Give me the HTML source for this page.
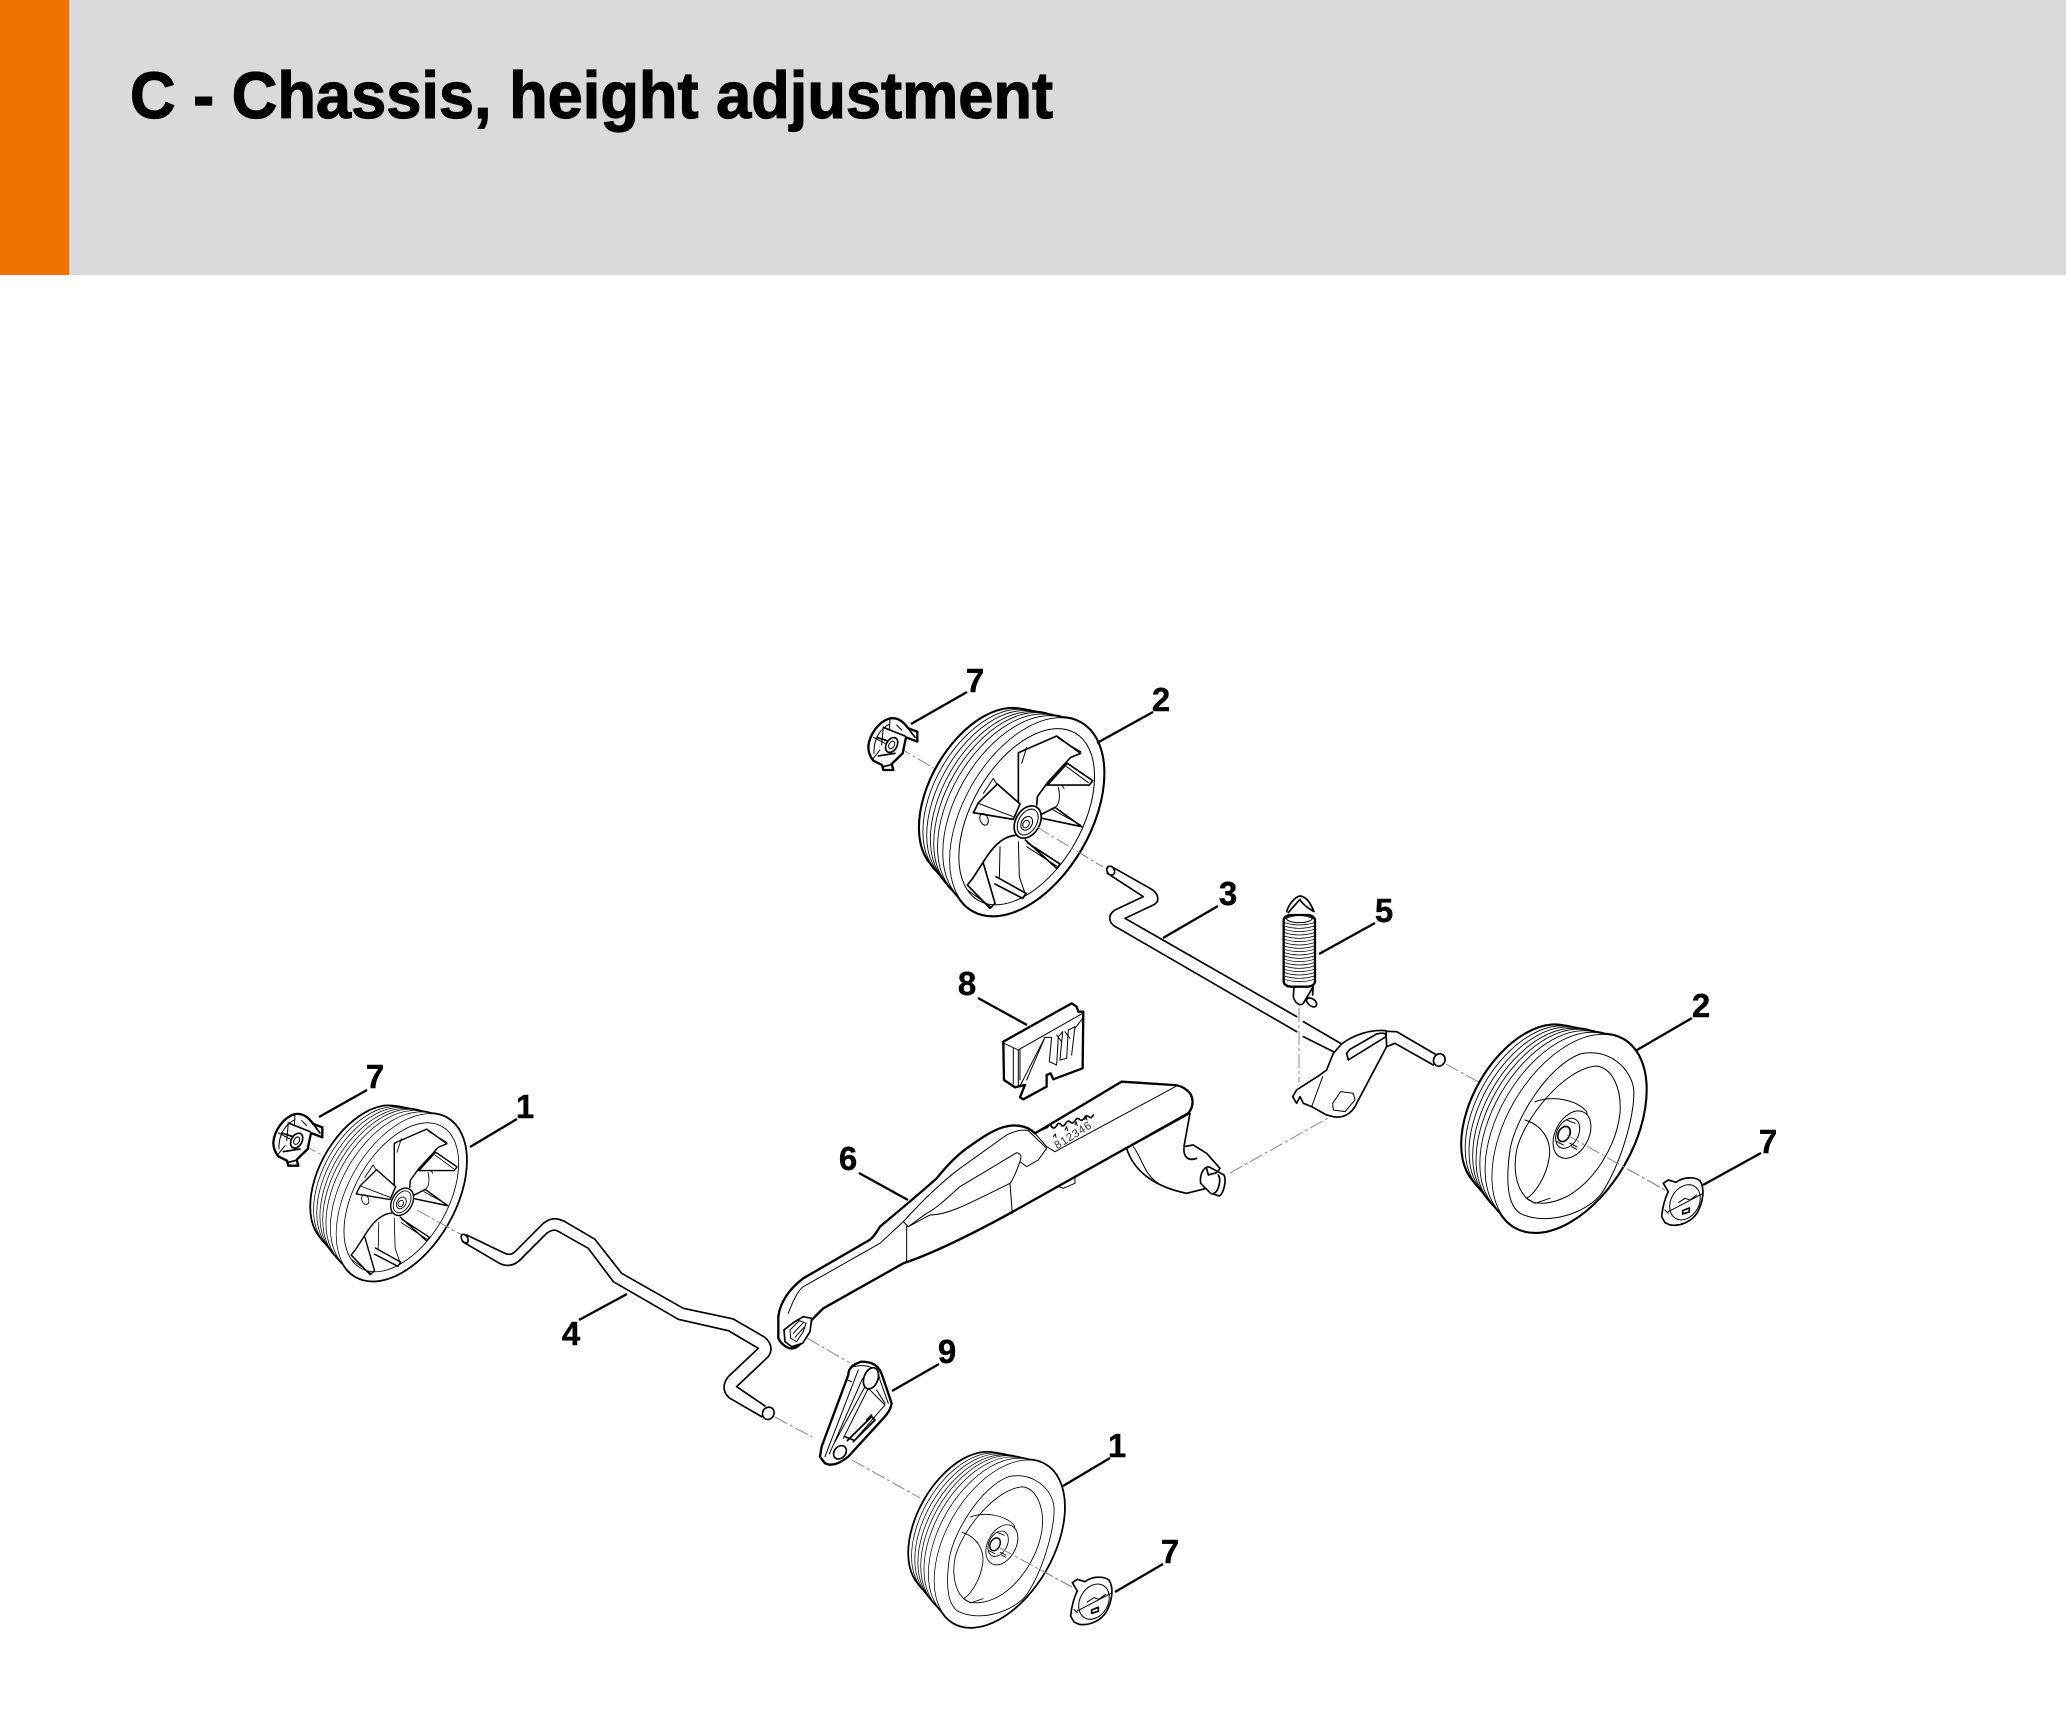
<!DOCTYPE html>
<html lang="en">
<head>
<meta charset="utf-8">
<title>C - Chassis, height adjustment</title>
<style>
html,body{margin:0;padding:0;background:#fff;width:2066px;height:1728px;overflow:hidden}
svg{display:block}
.k{fill:none;stroke:#000;stroke-linecap:round;stroke-linejoin:round}
.w{fill:#fff;stroke:#000;stroke-linecap:round;stroke-linejoin:round}
.th{stroke-width:7}
.md{stroke-width:5}
.tn{stroke-width:3}
.dash{stroke:#888;stroke-width:1;fill:none;stroke-dasharray:14 3 3 3}
.lead{stroke:#000;stroke-width:2.3;fill:none}
.num{font-family:"Liberation Sans",sans-serif;font-weight:700;font-size:33px;fill:#000;text-anchor:middle;stroke:#000;stroke-width:.4}
</style>
</head>
<body>
<svg width="2066" height="1728" viewBox="0 0 2066 1728" xmlns="http://www.w3.org/2000/svg">
<defs>
  <g id="shapes">
    <ellipse cx="-128" cy="-76" rx="272" ry="159" transform="rotate(-60 -128 -76)"/>
    <ellipse cx="-113" cy="-67" rx="279" ry="163" transform="rotate(-60 -113 -67)"/>
    <ellipse cx="-97" cy="-58" rx="285" ry="167" transform="rotate(-60 -97 -58)"/>
    <ellipse cx="-82" cy="-49" rx="291" ry="170" transform="rotate(-60 -82 -49)"/>
    <ellipse cx="-67" cy="-40" rx="298" ry="174" transform="rotate(-60 -67 -40)"/>
    <ellipse cx="-51" cy="-30" rx="304" ry="178" transform="rotate(-60 -51 -30)"/>
    <ellipse cx="-30" cy="-18" rx="312" ry="182" transform="rotate(-60 -30 -18)"/>
    <ellipse cx="0" cy="0" rx="325" ry="190" transform="rotate(-60)"/>
  </g>
  <g id="tread">
    <use href="#shapes" fill="none" stroke="#000" stroke-width="10"/>
    <use href="#shapes" fill="#fff" stroke="none"/>
    <use href="#shapes" fill="#fff" stroke="#000" stroke-width="2.6"/>
  </g>

  <g id="wheelBack">
    <use href="#tread"/>
    <g transform="translate(-560,-500)">
      <ellipse cx="560" cy="500" rx="290" ry="165" transform="rotate(-60 560 500)" class="k tn"/>
      <path class="k md" d="M535 455L535 308L650 258L722 310L692 322L622 398L592 440L590 465"/>
      <path class="k tn" d="M535 310L560 295M650 258L660 268L722 305M560 292L545 340"/>
      <path class="k md" d="M622 405L748 405L758 392L682 340L622 405"/>
      <path class="k tn" d="M680 350L745 398M665 405L672 415"/>
      <path class="k tn" d="M655 412Q668 470 630 480"/>
      <path class="k md" d="M606 505L725 530L645 472L606 492"/>
      <path class="k tn" d="M640 480L722 525"/>
      <path class="k md" d="M556 570L650 655L660 642L562 578"/>
      <path class="k tn" d="M560 590L650 648M535 575L538 680L555 730"/>
      <path class="k md" d="M525 556Q480 560 440 620L398 685L382 705L450 775L465 760L430 640"/>
      <path class="k md" d="M468 680L558 730L548 745L465 702"/>
      <path class="k tn" d="M385 722L452 770M480 590L478 682"/>
      <path class="k md" d="M400 488L520 508L540 462L472 402L415 458L400 488"/>
      <path class="k tn" d="M415 460L520 500M470 402L460 385L430 430"/>
      <ellipse cx="432" cy="508" rx="12" ry="18" class="k tn" transform="rotate(-20 432 508)"/>
      <ellipse cx="563" cy="516" rx="52" ry="36" class="w md" transform="rotate(-60 563 516)"/>
      <ellipse cx="563" cy="516" rx="42" ry="27" class="k tn" transform="rotate(-60 563 516)"/>
      <ellipse cx="560" cy="520" rx="22" ry="16" class="k tn" transform="rotate(-60 560 520)"/>
      <ellipse cx="558" cy="522" rx="12" ry="9" class="k tn" transform="rotate(-60 558 522)"/>
    </g>
  </g>

  <g id="wheelFront">
    <use href="#tread"/>
    <g transform="translate(-447,-460)">
      <path class="k tn" d="M480 222C560 205 625 255 640 320C650 380 610 540 545 640C500 700 380 740 300 700C255 670 260 580 270 510C285 420 380 260 480 222Z"/>
      <path class="k tn" d="M530 258C580 265 605 330 600 400C590 490 530 600 440 650C400 670 345 680 320 655C285 620 280 560 290 510C310 420 430 265 530 258Z"/>
      <path class="k tn" d="M345 365C400 345 470 360 500 395L508 440"/>
      <path class="k tn" d="M315 420C365 435 395 480 388 530C380 590 345 640 320 655L345 670L390 655"/>
      <ellipse cx="456" cy="464" rx="76" ry="50" class="w tn" transform="rotate(-62 456 464)"/>
      <ellipse cx="443" cy="460" rx="48" ry="32" class="k tn" transform="rotate(-62 443 460)"/>
      <ellipse cx="432" cy="462" rx="24" ry="17" class="k md" transform="rotate(-62 432 462)"/>
      <path class="k tn" d="M450 490L470 500M455 500L470 508M440 420L465 430M410 485L430 495"/>
    </g>
  </g>

  <g id="capBack">
    <path class="w th" d="M85 290C88 255 115 215 150 205C175 202 190 215 205 235L232 245L232 275L198 262L188 310L155 342L160 360L130 360L126 345L100 332C90 320 85 305 85 290Z"/>
    <path class="k md" d="M130 232L195 258M110 262L150 275M115 318L165 310M150 345L130 350M205 235L225 262"/>
    <path class="k tn" d="M102 310C100 270 120 235 150 222M170 225L185 240M150 205L148 240M130 232L125 285M100 262L135 280M120 300L100 325"/>
    <ellipse cx="155" cy="285" rx="24" ry="16" class="w md" transform="rotate(-60 155 285)"/>
    <ellipse cx="155" cy="285" rx="12" ry="8" class="k tn" transform="rotate(-60 155 285)"/>
  </g>

  <g id="capFront">
    <path class="w md" d="M725 710C728 680 735 655 745 635L730 610L745 600L768 607C790 590 825 590 840 602C855 625 850 665 832 698C815 725 780 740 750 735L735 728Z"/>
    <ellipse cx="795" cy="667" rx="56" ry="42" class="k tn" transform="rotate(-60 795 667)"/>
    <path class="k tn" d="M775 668L795 655L810 660L830 645M745 695L850 640M735 690L745 700"/>
    <path class="k md" d="M788 692L808 684L808 696L788 702Z"/>
  </g>
</defs>

<!-- Header -->
<rect x="0" y="0" width="2066" height="275" fill="#d9dbda"/>
<rect x="0" y="0" width="69" height="275" fill="#f07300"/>
<text x="130" y="118" font-family="'Liberation Sans',sans-serif" font-weight="700" font-size="66" fill="#000" stroke="#000" stroke-width="1.2" textLength="923" lengthAdjust="spacingAndGlyphs">C - Chassis, height adjustment</text>

<!-- Dashed centre lines -->
<g class="dash">
  <path d="M898 747L937 770"/>
  <path d="M1037 827L1103 867"/>
  <path d="M303 1145L328 1158"/>
  <path d="M417 1210L462 1235"/>
  <path d="M775 1417L812 1437"/>
  <path d="M852 1460L920 1498"/>
  <path d="M807 1338L850 1363"/>
  <path d="M1000 1548L1072 1587"/>
  <path d="M1446 1064L1482 1084"/>
  <path d="M1567 1135L1665 1190"/>
  <path d="M1299 1008L1299 1082"/>
  <path d="M1230 1173L1330 1117"/>
</g>

<!-- Wheels -->
<g transform="translate(1026.7,816.7) scale(.3333)"><use href="#wheelBack"/></g>
<g transform="translate(401.3,1197.3) scale(.2817)"><use href="#wheelBack"/></g>
<g transform="translate(1569,1133.3) scale(.3333)"><use href="#wheelFront"/></g>
<g transform="translate(999.3,1543.7) scale(.2817)"><use href="#wheelFront"/></g>

<g class="dash">
  <path d="M1037 827L1103 867"/>
  <path d="M417 1210L462 1235"/>
  <path d="M1567 1135L1665 1190"/>
  <path d="M1000 1548L1072 1587"/>
</g>

<!-- Caps -->
<g transform="translate(840,650) scale(.3333)"><use href="#capBack"/></g>
<g transform="translate(260,1060) scale(.3333) translate(-45,-43)"><use href="#capBack"/></g>
<g transform="translate(1420,980) scale(.3333)"><use href="#capFront"/></g>
<g transform="translate(780,1340) scale(.3333) translate(147,118)"><use href="#capFront"/></g>

<!-- Rod 3, spring, bracket -->
<g transform="translate(1100,840) scale(.3333)">
  <path class="k md" d="M35 80L150 145C178 160 180 185 160 195L75 235L590 530M610 545L725 612"/>
  <path class="k md" d="M22 100L130 170L45 210C22 225 25 250 50 262L590 575M610 590L700 635"/>
  <ellipse cx="32" cy="92" rx="11" ry="14" class="w md" transform="rotate(-30 32 92)"/>
  <path class="k md" d="M858 574L890 575L1010 645M860 620L885 610L1000 675"/>
  <ellipse cx="1018" cy="660" rx="17" ry="19" class="w md" transform="rotate(30 1018 660)"/>
  <path class="w md" d="M725 612C760 585 810 568 858 572L860 620L770 790C755 825 725 835 700 830L680 825L635 800L610 790L600 770L590 790L578 770L590 750L660 705L680 690L700 640Z"/>
  <path class="k md" d="M740 640L745 660L858 590C860 578 845 578 830 582L750 628Z"/>
  <path class="k tn" d="M668 710L635 800"/>
  <path class="w tn" d="M698 790L722 755L760 760L765 780L735 815L700 810Z"/>
  <path class="k md" d="M560 215C565 195 585 170 600 168C620 170 632 190 642 215C625 205 605 190 600 178C590 190 575 205 565 218"/>
  <path class="k md" d="M582 440L580 470C585 490 600 500 610 490L640 440M618 478C625 500 650 510 650 490C645 475 625 470 620 478M640 430L638 465"/>
  <rect x="551" y="225" width="94" height="215" rx="22" ry="16" class="w th"/>
  <path class="k" stroke-width="2.2" d="M553 238Q598 215 643 238M553 248Q598 262 643 248M553 258Q598 272 643 258M553 268Q598 282 643 268M553 278Q598 292 643 278M553 288Q598 302 643 288M553 298Q598 312 643 298M553 308Q598 322 643 308M553 318Q598 332 643 318M553 328Q598 342 643 328M553 338Q598 352 643 338M553 348Q598 362 643 348M553 358Q598 372 643 358M553 368Q598 382 643 368M553 378Q598 392 643 378M553 388Q598 402 643 388M553 398Q598 412 643 398M553 408Q598 422 643 408M553 418Q598 432 643 418"/>
  <ellipse cx="598" cy="236" rx="38" ry="12" class="k tn"/>
</g>

<!-- Rod 4, part 9 -->
<g transform="translate(440,1200) scale(.3333)">
  <path class="k md" d="M80 105L195 160C210 167 220 160 225 155L310 70C335 50 355 55 375 65L465 118L545 220L730 325L880 357L975 412C1000 435 995 455 985 470L890 560L975 618"/>
  <path class="k md" d="M68 125L170 185C200 205 225 195 240 180L320 100C340 85 350 90 365 100L445 145L520 245L715 358L865 392L955 445L865 530C845 555 850 580 870 595L965 650"/>
  <ellipse cx="74" cy="116" rx="9" ry="14" class="w md" transform="rotate(-30 74 116)"/>
  <ellipse cx="985" cy="640" rx="17" ry="19" class="w md" transform="rotate(30 985 640)"/>
  <path class="w th" d="M1225 525C1225 505 1240 492 1265 485C1295 485 1318 495 1328 530L1355 610C1352 630 1340 645 1330 655L1225 770C1200 790 1175 800 1155 790L1140 770L1145 740Z"/>
  <path class="k tn" d="M1155 770L1255 510M1168 762L1268 535M1180 735L1275 560M1210 715L1285 565L1335 615L1240 725"/>
  <path class="k tn" d="M1240 500C1285 490 1315 505 1320 540L1345 610M1310 570L1335 610"/>
  <path class="k md" d="M1222 722L1295 650L1305 660L1240 725M1215 710L1240 720M1280 660L1295 645"/>
  <path class="k tn" d="M1225 525L1222 540L1235 545"/>
  <ellipse cx="1293" cy="535" rx="33" ry="21" class="w md" transform="rotate(-70 1293 535)"/>
  <ellipse cx="1200" cy="757" rx="22" ry="17" class="w md" transform="rotate(-50 1200 757)"/>
</g>

<!-- Part 6, part 8 -->
<g transform="translate(760,980) scale(.3333)">
  <path class="w md" d="M1100 505C1120 570 1180 620 1280 640L1340 625L1380 565L1340 520L1300 495L1272 500L1290 400Z"/>
  <path class="k tn" d="M1120 500C1150 540 1150 580 1195 610"/>
  <path class="k md" d="M1272 505C1270 530 1285 545 1310 535"/>
  <path class="w md" d="M1322 610C1318 580 1335 555 1350 562L1392 585C1400 600 1392 640 1378 648L1352 640Z"/>
  <path class="k md" d="M1375 585C1385 600 1375 635 1362 640M1340 565L1345 585L1370 578"/>
  <path class="w tn" d="M895 620L905 600L945 592L945 610L910 625Z"/>
  <path class="w th" d="M155 1020L190 985L430 850C520 820 640 760 750 700L1285 400C1305 375 1300 345 1280 330C1265 318 1250 315 1240 315L1085 305L985 365L825 460C800 435 760 430 720 445C680 460 650 485 620 505C580 535 555 565 530 595C480 640 420 690 360 740C345 765 335 778 320 785L130 895C90 925 60 965 55 1010L55 1075C65 1095 85 1108 100 1105C125 1100 145 1060 155 1020Z"/>
  <path class="k tn" d="M1250 318L885 515L860 500L825 460"/>
  <path class="k tn" d="M85 1000C100 960 115 930 130 920L360 790L430 725C480 670 540 610 600 565L740 465C770 450 790 448 805 452L860 505L835 540L800 560L780 545C785 530 785 522 770 518L600 620C560 655 530 685 500 700L445 740L430 725"/>
  <path class="k tn" d="M445 740L510 705C560 705 610 680 750 610C765 590 770 570 780 545"/>
  <path class="k tn" d="M440 738L440 845M750 610L757 700"/>
  <path class="k md" d="M862 443q6 -14 14 -2q6 8 14 -4q6 -12 14 -2q6 8 14 -6q6 -10 14 -2q6 6 14 -6q6 -10 14 -2q6 6 14 -6q4 -10 14 -2q6 6 12 -6"/>
  <path class="k tn" d="M825 460L862 443"/>
  <text x="0" y="0" transform="translate(892,508) rotate(-32)" font-family="'Liberation Sans',sans-serif" font-size="34" fill="#333" letter-spacing="2">812346</text>
  <path class="k tn" d="M880 470l6 -8l2 10M915 450l5 -10l3 12M945 435l3 -10l4 12M975 418l3 -8l3 10"/>
  <path class="w md" d="M72 1050L100 1028L130 1010L155 1015L150 1055L128 1090L95 1100L75 1085Z"/>
  <path class="k tn" d="M90 1050L118 1022L138 1030L130 1055L110 1085L92 1075Z"/>
  <path class="k tn" d="M100 1060L128 1030M105 1072L132 1042"/>
  <path class="w th" d="M730 185L935 70L950 80L955 95L970 95L968 265L880 298L872 280L860 285L860 320L790 358L780 352L795 315L765 322L732 300Z"/>
  <path class="k tn" d="M732 190L775 210L775 320M775 210L968 100M760 205L760 312"/>
  <path class="k tn" d="M780 318L855 172L875 172L868 245L890 255L895 170L908 155L900 240L920 235L925 150L945 140L935 225"/>
  <path class="k tn" d="M780 210L780 300M855 172L800 300M890 165L905 185M915 155L930 175M945 145L968 115"/>
</g>

<!-- Leader lines -->
<g class="lead">
  <path d="M911 724L967 692"/>
  <path d="M1097 743L1153 712"/>
  <path d="M1163 938L1218 906"/>
  <path d="M1319 954L1375 923"/>
  <path d="M1637 1050L1692 1018"/>
  <path d="M1703 1185L1761 1153"/>
  <path d="M978 998L1027 1025"/>
  <path d="M859 1173L908 1200"/>
  <path d="M319 1117L367 1090"/>
  <path d="M470 1147L517 1119"/>
  <path d="M579 1320L627 1294"/>
  <path d="M892 1391L939 1364"/>
  <path d="M1063 1486L1110 1458"/>
  <path d="M1115 1592L1163 1564"/>
</g>

<!-- Labels -->
<text class="num" x="975" y="692">7</text>
<text class="num" x="1161" y="711">2</text>
<text class="num" x="1228" y="905">3</text>
<text class="num" x="1384" y="922">5</text>
<text class="num" x="1701" y="1017">2</text>
<text class="num" x="1768" y="1153">7</text>
<text class="num" x="967" y="995">8</text>
<text class="num" x="848" y="1170">6</text>
<text class="num" x="375" y="1088">7</text>
<text class="num" x="525" y="1118">1</text>
<text class="num" x="571" y="1345">4</text>
<text class="num" x="947" y="1363">9</text>
<text class="num" x="1117" y="1457">1</text>
<text class="num" x="1170" y="1563">7</text>
</svg>
</body>
</html>
